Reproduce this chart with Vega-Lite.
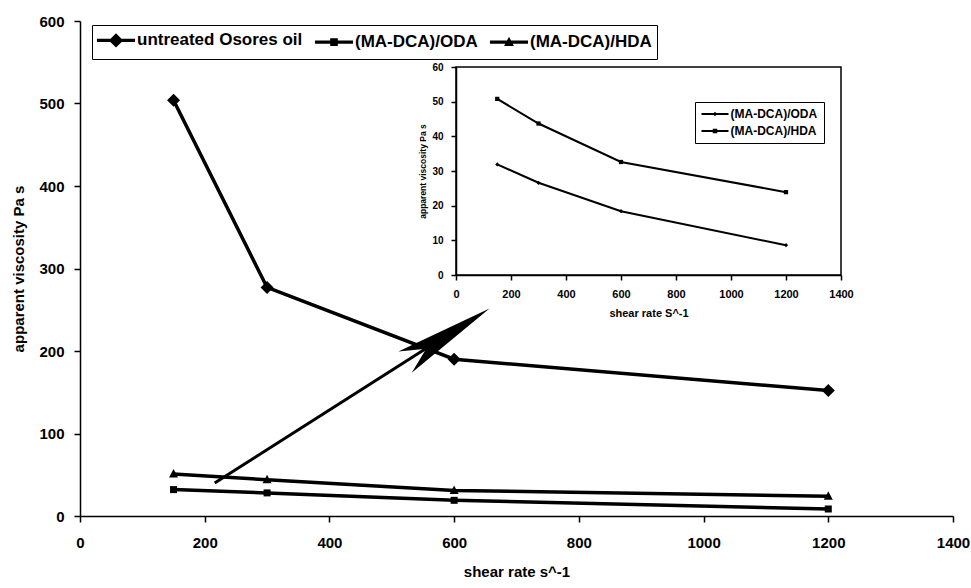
{
  "$schema": "https://vega.github.io/schema/vega-lite/v6.json",
  "width": 873,
  "height": 495,
  "autosize": {"type": "none"},
  "padding": {"left": 80, "top": 21, "right": 18, "bottom": 72},
  "background": "white",
  "config": {
    "view": {"stroke": null},
    "font": "Liberation Sans",
    "axis": {
      "grid": false,
      "domainColor": "black",
      "tickColor": "black",
      "labelColor": "black",
      "titleColor": "black",
      "labelFontWeight": "bold",
      "titleFontWeight": "bold",
      "labelFlush": false,
      "labelOverlap": false,
      "format": "d"
    }
  },
  "datasets": {
    "main": [
      {"series": "untreated Osores oil", "shear": 150, "visc": 504},
      {"series": "untreated Osores oil", "shear": 300, "visc": 277},
      {"series": "untreated Osores oil", "shear": 600, "visc": 190},
      {"series": "untreated Osores oil", "shear": 1200, "visc": 152},
      {"series": "(MA-DCA)/ODA", "shear": 150, "visc": 32},
      {"series": "(MA-DCA)/ODA", "shear": 300, "visc": 28},
      {"series": "(MA-DCA)/ODA", "shear": 600, "visc": 19},
      {"series": "(MA-DCA)/ODA", "shear": 1200, "visc": 8.5},
      {"series": "(MA-DCA)/HDA", "shear": 150, "visc": 51},
      {"series": "(MA-DCA)/HDA", "shear": 300, "visc": 44},
      {"series": "(MA-DCA)/HDA", "shear": 600, "visc": 31},
      {"series": "(MA-DCA)/HDA", "shear": 1200, "visc": 24}
    ],
    "inset": [
      {"sample": "(MA-DCA)/ODA", "rate": 150, "apparent": 31.9},
      {"sample": "(MA-DCA)/ODA", "rate": 300, "apparent": 26.6},
      {"sample": "(MA-DCA)/ODA", "rate": 600, "apparent": 18.4},
      {"sample": "(MA-DCA)/ODA", "rate": 1200, "apparent": 8.6},
      {"sample": "(MA-DCA)/HDA", "rate": 150, "apparent": 50.8},
      {"sample": "(MA-DCA)/HDA", "rate": 300, "apparent": 43.7},
      {"sample": "(MA-DCA)/HDA", "rate": 600, "apparent": 32.6},
      {"sample": "(MA-DCA)/HDA", "rate": 1200, "apparent": 23.9}
    ],
    "arrow": [
      {"shear": 216, "visc": 40},
      {"shear": 553, "visc": 202}
    ],
    "arrowhead": [
      {"shear": 589, "visc": 219}
    ]
  },
  "layer": [
    {
      "layer": [
        {
          "data": {"name": "main"},
          "mark": {"type": "line", "color": "black", "strokeWidth": 3.5},
          "encoding": {
            "x": {
              "field": "shear", "type": "quantitative",
              "scale": {"domain": [0, 1400], "nice": false, "zero": false},
              "axis": {
                "values": [0, 200, 400, 600, 800, 1000, 1200, 1400],
                "title": "shear rate s^-1",
                "labelFontSize": 15, "titleFontSize": 15,
                "tickSize": 6, "tickWidth": 1.5, "domainWidth": 1.5,
                "labelPadding": 13, "titlePadding": 14
              }
            },
            "y": {
              "field": "visc", "type": "quantitative",
              "scale": {"domain": [0, 600], "nice": false},
              "axis": {
                "values": [0, 100, 200, 300, 400, 500, 600],
                "title": "apparent viscosity Pa s",
                "labelFontSize": 15, "titleFontSize": 15,
                "tickSize": 6, "tickWidth": 1.5, "domainWidth": 1.5,
                "labelPadding": 10, "titlePadding": 12
              }
            },
            "detail": {"field": "series"}
          }
        },
        {
          "data": {"name": "main"},
          "mark": {"type": "point", "filled": true, "color": "black", "opacity": 1, "size": 100},
          "encoding": {
            "x": {"field": "shear", "type": "quantitative"},
            "y": {"field": "visc", "type": "quantitative"},
            "shape": {
              "field": "series", "type": "nominal",
              "scale": {
                "domain": ["untreated Osores oil", "(MA-DCA)/ODA", "(MA-DCA)/HDA"],
                "range": ["M0,-1.3L1.3,0L0,1.3L-1.3,0Z", "M-0.7,-0.7L0.7,-0.7L0.7,0.7L-0.7,0.7Z", "M0,-1L0.9,0.7L-0.9,0.7Z"]
              },
              "legend": null
            }
          }
        },
        {
          "data": {"name": "main"},
          "mark": {"type": "point", "filled": true, "color": "black", "opacity": 0, "size": 289},
          "encoding": {
            "x": {"field": "shear", "type": "quantitative"},
            "y": {"field": "visc", "type": "quantitative"},
            "shape": {
              "field": "series", "type": "nominal",
              "scale": {
                "domain": ["untreated Osores oil", "(MA-DCA)/ODA", "(MA-DCA)/HDA"],
                "range": [
                  "M-2.24,-0.19L2.24,-0.19L2.24,0.19L-2.24,0.19ZM0,-0.85L0.85,0L0,0.85L-0.85,0Z",
                  "M-2.24,-0.19L2.24,-0.19L2.24,0.19L-2.24,0.19ZM-0.45,-0.45L0.45,-0.45L0.45,0.45L-0.45,0.45Z",
                  "M-2.24,-0.19L2.24,-0.19L2.24,0.19L-2.24,0.19ZM0,-0.62L0.58,0.45L-0.58,0.45Z"
                ]
              },
              "legend": {
                "orient": "none", "legendX": 12, "legendY": 4,
                "direction": "horizontal", "title": null,
                "strokeColor": "black", "padding": 5,
                "symbolSize": 289, "symbolOffset": 9,
                "symbolOpacity": 1, "symbolFillColor": "black",
                "symbolStrokeWidth": 3,
                "labelFont": "Liberation Sans", "labelFontSize": 17,
                "labelFontWeight": "bold", "labelColor": "black",
                "labelLimit": 400, "labelOffset": 11, "columnPadding": 5
              }
            }
          }
        },
        {
          "data": {"name": "arrow"},
          "mark": {"type": "line", "color": "black", "strokeWidth": 3},
          "encoding": {
            "x": {"field": "shear", "type": "quantitative"},
            "y": {"field": "visc", "type": "quantitative"}
          }
        },
        {
          "data": {"name": "arrowhead"},
          "mark": {
            "type": "point", "filled": true, "color": "black", "opacity": 1,
            "shape": "M1,0L-1,-0.25L-0.5,0L-1,0.25Z",
            "size": 10000, "angle": 327.6
          },
          "encoding": {
            "x": {"field": "shear", "type": "quantitative"},
            "y": {"field": "visc", "type": "quantitative"}
          }
        }
      ],
      "resolve": {"scale": {"shape": "independent"}, "legend": {"shape": "independent"}}
    },
    {
      "layer": [
        {
          "data": {"name": "inset"},
          "mark": {"type": "line", "color": "black", "strokeWidth": 2},
          "encoding": {
            "x": {
              "field": "rate", "type": "quantitative",
              "scale": {"domain": [0, 1400], "range": [376, 761], "nice": false, "zero": false},
              "axis": {
                "orient": "bottom", "offset": -241,
                "values": [0, 200, 400, 600, 800, 1000, 1200, 1400],
                "title": "shear rate S^-1",
                "labelFontSize": 11, "titleFontSize": 11,
                "tickSize": 5, "tickWidth": 1.5, "domainWidth": 1.5,
                "labelPadding": 8, "titlePadding": 8
              }
            },
            "y": {
              "field": "apparent", "type": "quantitative",
              "scale": {"domain": [0, 60], "range": [254, 46], "nice": false},
              "axis": {
                "orient": "left", "offset": -376,
                "values": [0, 10, 20, 30, 40, 50, 60],
                "title": "apparent viscosity Pa s",
                "labelFontSize": 10, "titleFontSize": 8.5,
                "tickSize": 5, "tickWidth": 1.5, "domainWidth": 1.5,
                "labelPadding": 8, "titlePadding": 4
              }
            },
            "detail": {"field": "sample"}
          }
        },
        {
          "data": {"name": "inset"},
          "mark": {"type": "point", "filled": true, "color": "black", "opacity": 1, "size": 18},
          "encoding": {
            "x": {"field": "rate", "type": "quantitative"},
            "y": {"field": "apparent", "type": "quantitative"},
            "shape": {
              "field": "sample", "type": "nominal",
              "scale": {
                "domain": ["(MA-DCA)/ODA", "(MA-DCA)/HDA"],
                "range": ["diamond", "square"]
              },
              "legend": null
            }
          }
        },
        {
          "data": {"name": "inset"},
          "mark": {"type": "point", "filled": true, "color": "black", "opacity": 0, "size": 100},
          "encoding": {
            "x": {"field": "rate", "type": "quantitative"},
            "y": {"field": "apparent", "type": "quantitative"},
            "shape": {
              "field": "sample", "type": "nominal",
              "scale": {
                "domain": ["(MA-DCA)/ODA", "(MA-DCA)/HDA"],
                "range": [
                  "M-2.7,-0.18L2.7,-0.18L2.7,0.18L-2.7,0.18ZM0,-0.45L0.45,0L0,0.45L-0.45,0Z",
                  "M-2.7,-0.18L2.7,-0.18L2.7,0.18L-2.7,0.18ZM-0.45,-0.45L0.45,-0.45L0.45,0.45L-0.45,0.45Z"
                ]
              },
              "legend": {
                "orient": "none", "legendX": 615, "legendY": 81,
                "direction": "vertical", "title": null,
                "strokeColor": "black", "padding": 6,
                "symbolSize": 100, "symbolOffset": 8,
                "symbolOpacity": 1, "symbolFillColor": "black",
                "symbolStrokeWidth": 1.5,
                "labelFont": "Liberation Sans", "labelFontSize": 12,
                "labelFontWeight": "bold", "labelColor": "black",
                "labelLimit": 300, "labelOffset": 9.5, "rowPadding": 5
              }
            }
          }
        },
        {
          "data": {"values": [{}]},
          "mark": {"type": "rect", "fillOpacity": 0, "stroke": "black", "strokeWidth": 1.5},
          "encoding": {
            "x": {"datum": 0, "type": "quantitative"},
            "x2": {"datum": 1400},
            "y": {"datum": 0, "type": "quantitative"},
            "y2": {"datum": 60}
          }
        }
      ],
      "resolve": {"scale": {"shape": "independent"}, "legend": {"shape": "independent"}}
    }
  ],
  "resolve": {
    "scale": {"x": "independent", "y": "independent", "shape": "independent"},
    "axis": {"x": "independent", "y": "independent"},
    "legend": {"shape": "independent"}
  }
}
